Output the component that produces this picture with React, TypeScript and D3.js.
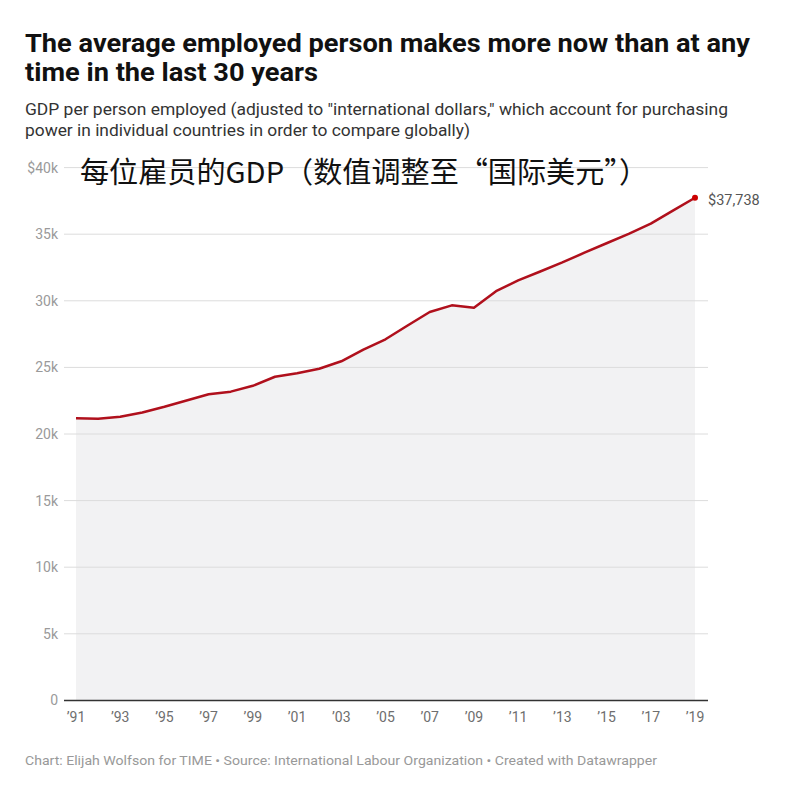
import React from "react";
import * as d3 from "d3";

const years: number[] = [1991,1992,1993,1994,1995,1996,1997,1998,1999,2000,2001,2002,2003,2004,2005,2006,2007,2008,2009,2010,2011,2012,2013,2014,2015,2016,2017,2018,2019];
const gdp: number[] = [21180,21150,21300,21620,22050,22520,22980,23180,23620,24300,24560,24900,25460,26340,27110,28150,29160,29660,29470,30720,31540,32200,32880,33610,34320,35020,35790,36770,37738];
const yTicks: number[] = [0,5000,10000,15000,20000,25000,30000,35000,40000];
const yTickLabels: string[] = ["0","5k","10k","15k","20k","25k","30k","35k","$40k"];
const xTicks: number[] = [1991,1993,1995,1997,1999,2001,2003,2005,2007,2009,2011,2013,2015,2017,2019];
const xTickLabels: string[] = ["’91","’93","’95","’97","’99","’01","’03","’05","’07","’09","’11","’13","’15","’17","’19"];

const title1 = "The average employed person makes more now than at any";
const title2 = "time in the last 30 years";
const sub1 = "GDP per person employed (adjusted to \"international dollars,\" which account for purchasing";
const sub2 = "power in individual countries in order to compare globally)";
const overlay = "每位雇员的GDP（数值调整至“国际美元”）";
const footer = "Chart: Elijah Wolfson for TIME • Source: International Labour Organization • Created with Datawrapper";
const endLabel = "$37,738";

export default function App() {
  const W = 800, H = 800;
  const x = d3.scaleLinear().domain([1991, 2019]).range([76, 695]);
  const y = d3.scaleLinear().domain([0, 40000]).range([700.4, 167.6]);
  const pts = years.map((yr, i) => ({ yr, v: gdp[i] }));
  const line = d3.line<{ yr: number; v: number }>().x(d => x(d.yr)).y(d => y(d.v));
  const area = d3.area<{ yr: number; v: number }>().x(d => x(d.yr)).y0(y(0)).y1(d => y(d.v));
  const last = pts[pts.length - 1];
  const font = "Roboto, 'Noto Sans', sans-serif";
  return (
    <svg width={W} height={H} style={{ position: "absolute", left: 0, top: 0, background: "#fff" }} fontFamily={font}>
      <rect x={0} y={0} width={W} height={H} fill="#fff" />
      <text x={25} y={52} fontSize={26.5} fontWeight={700} fill="#111" textLength={725} lengthAdjust="spacingAndGlyphs">{title1}</text>
      <text x={25} y={81} fontSize={26.5} fontWeight={700} fill="#111" textLength={293} lengthAdjust="spacingAndGlyphs">{title2}</text>
      <text x={25} y={115} fontSize={16} fontWeight={400} fill="#333" textLength={703} lengthAdjust="spacingAndGlyphs">{sub1}</text>
      <text x={25} y={136} fontSize={16} fontWeight={400} fill="#333" textLength={445} lengthAdjust="spacingAndGlyphs">{sub2}</text>

      <path d={area(pts) || ""} fill="#f2f2f3" />
      {yTicks.map((t, i) => (
        <g key={t}>
          {t !== 0 && <line x1={64} x2={708} y1={y(t)} y2={y(t)} stroke="#dcdcdc" strokeWidth={1} />}
          <text x={58} y={y(t)} dy="0.35em" textAnchor="end" fontSize={14} fill="#9a9a9a">{yTickLabels[i]}</text>
        </g>
      ))}
      <line x1={64} x2={708} y1={y(0)} y2={y(0)} stroke="#333" strokeWidth={1.5} />
      {xTicks.map((t, i) => (
        <text key={t} x={x(t)} y={722} textAnchor="middle" fontSize={14} fill="#6e6e6e">{xTickLabels[i]}</text>
      ))}
      <path d={line(pts) || ""} fill="none" stroke="#b0101c" strokeWidth={2.5} strokeLinejoin="round" />
      <circle cx={x(last.yr)} cy={y(last.v)} r={3} fill="#c00" />
      <text x={708} y={y(last.v) + 2} dy="0.35em" fontSize={14.5} fill="#555">{endLabel}</text>

      <text x={80} y={183} fontSize={29} fill="#111" fontFamily="'Noto Sans CJK SC', sans-serif" textLength={568} lengthAdjust="spacingAndGlyphs">{overlay}</text>

      <text x={25} y={765} fontSize={13} fill="#999" textLength={632} lengthAdjust="spacingAndGlyphs">{footer}</text>
    </svg>
  );
}
